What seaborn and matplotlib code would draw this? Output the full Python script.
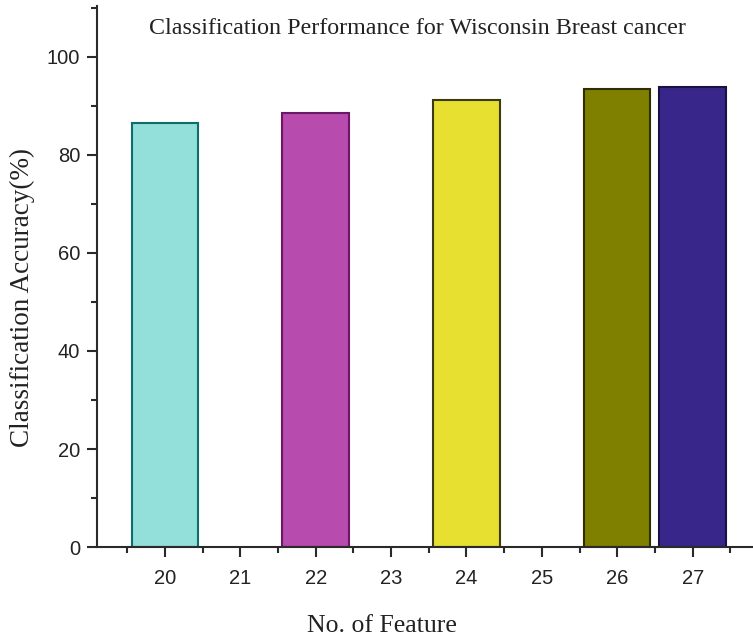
import matplotlib
matplotlib.use("Agg")
import matplotlib.pyplot as plt
from matplotlib.ticker import MultipleLocator
import seaborn as sns
import pandas as pd

# Accuracy per number of selected features
features = [20, 22, 24, 26, 27]
accuracy = [86.5, 88.5, 91.2, 93.4, 93.9]
fill_colors = ["#93dfd9", "#b84bae", "#e8e030", "#7f7f00", "#38268a"]
edge_colors = ["#0f6d6b", "#6a1766", "#3d3a12", "#2e2e00", "#1a1240"]
tick_values = [20, 21, 22, 23, 24, 25, 26, 27]

sns.set_theme(style="ticks")
plt.rcParams["font.family"] = ["Liberation Sans", "DejaVu Sans"]

df = pd.DataFrame({"feature": features, "accuracy": accuracy})

fig = plt.figure(figsize=(7.53, 6.38), dpi=100)
ax = fig.add_axes([0.1288, 0.1426, 0.8712, 0.848])

sns.barplot(data=df, x="feature", y="accuracy", hue="feature",
            palette=dict(zip(features, fill_colors)), native_scale=True,
            width=0.88, legend=False, ax=ax, saturation=1)

for patch, ec in zip(ax.patches, edge_colors):
    patch.set_edgecolor(ec)
    patch.set_linewidth(1.5)

ax.set_xlim(19.1, 27.8)
ax.set_ylim(0, 110.4)
ax.set_xticks(tick_values)
ax.set_xticklabels([str(v) for v in tick_values])
ax.xaxis.set_minor_locator(MultipleLocator(1, offset=0.5))
ax.set_yticks([0, 20, 40, 60, 80, 100])
ax.yaxis.set_minor_locator(MultipleLocator(10))

for side in ("top", "right"):
    ax.spines[side].set_visible(False)
for side in ("left", "bottom"):
    ax.spines[side].set_linewidth(1.5)
    ax.spines[side].set_color("#2a2a2a")

ax.tick_params(axis="both", which="major", direction="out", length=7,
               width=1.5, color="#2a2a2a", labelsize=14.5, labelcolor="#222222",
               pad=5)
ax.tick_params(axis="x", which="major", pad=8.5)
ax.tick_params(axis="both", which="minor", direction="out", length=4,
               width=1.5, color="#2a2a2a")

serif = ["Liberation Serif", "DejaVu Serif"]
ax.set_xlabel("No. of Feature", family=serif, fontsize=18.5, color="#222222")
ax.xaxis.set_label_coords(0.434, -0.125)
ax.set_ylabel("Classification Accuracy(%)", family=serif, fontsize=19.5,
              color="#222222")
ax.yaxis.set_label_coords(-0.094, 0.461)
ax.text(0.489, 0.958, "Classification Performance for Wisconsin Breast cancer",
        transform=ax.transAxes, ha="center", va="center", family=serif,
        fontsize=17.3, color="#222222")

fig.savefig("out.png", dpi=100)
